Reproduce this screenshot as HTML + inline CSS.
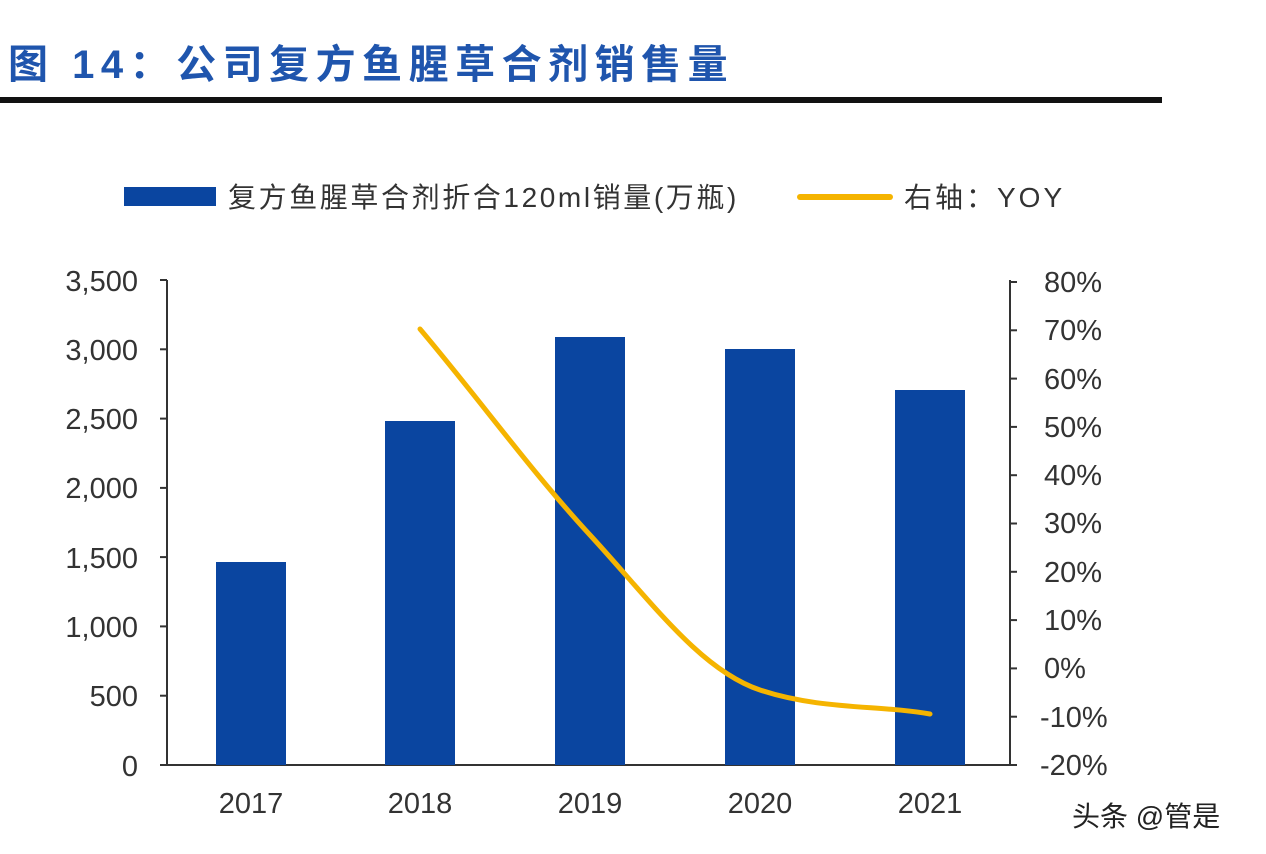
<!DOCTYPE html>
<html><head><meta charset="utf-8"><style>
html,body{margin:0;padding:0;background:#fff;}
svg{display:block;font-family:"Liberation Sans","Noto Sans CJK SC",sans-serif;}
</style></head><body>
<svg width="1266" height="854" viewBox="0 0 1266 854" xmlns="http://www.w3.org/2000/svg">
<rect width="1266" height="854" fill="#fff"/>
<text x="8" y="78" font-size="40" font-weight="bold" fill="#1f55ad" letter-spacing="6.5">图 14：公司复方鱼腥草合剂销售量</text>
<rect x="0" y="97" width="1162" height="6" fill="#111"/>
<rect x="124" y="187" width="92" height="19" fill="#0a45a0"/>
<text x="228" y="207" font-size="28" fill="#333" letter-spacing="2.6">复方鱼腥草合剂折合120ml销量(万瓶)</text>
<line x1="800" y1="197" x2="890" y2="197" stroke="#f5b400" stroke-width="6" stroke-linecap="round"/>
<text x="904" y="207" font-size="28" fill="#333" letter-spacing="3">右轴：YOY</text>
<g stroke="#333" stroke-width="2" fill="none">
<line x1="167" y1="280" x2="167" y2="765"/>
<line x1="167" y1="765" x2="1010" y2="765"/>
<line x1="1010" y1="280" x2="1010" y2="765"/>
<line x1="160" y1="280" x2="167" y2="280"/><line x1="160" y1="349.3" x2="167" y2="349.3"/><line x1="160" y1="418.6" x2="167" y2="418.6"/><line x1="160" y1="487.9" x2="167" y2="487.9"/><line x1="160" y1="557.1" x2="167" y2="557.1"/><line x1="160" y1="626.4" x2="167" y2="626.4"/><line x1="160" y1="695.7" x2="167" y2="695.7"/><line x1="160" y1="765" x2="167" y2="765"/>
<line x1="1010" y1="282" x2="1017" y2="282"/><line x1="1010" y1="330.3" x2="1017" y2="330.3"/><line x1="1010" y1="378.6" x2="1017" y2="378.6"/><line x1="1010" y1="426.9" x2="1017" y2="426.9"/><line x1="1010" y1="475.2" x2="1017" y2="475.2"/><line x1="1010" y1="523.5" x2="1017" y2="523.5"/><line x1="1010" y1="571.8" x2="1017" y2="571.8"/><line x1="1010" y1="620.1" x2="1017" y2="620.1"/><line x1="1010" y1="668.4" x2="1017" y2="668.4"/><line x1="1010" y1="716.7" x2="1017" y2="716.7"/><line x1="1010" y1="765" x2="1017" y2="765"/>
</g>
<g font-size="29" fill="#333" text-anchor="end">
<text x="138" y="291">3,500</text><text x="138" y="360">3,000</text><text x="138" y="429">2,500</text><text x="138" y="498">2,000</text><text x="138" y="568">1,500</text><text x="138" y="637">1,000</text><text x="138" y="706">500</text><text x="138" y="776">0</text>
</g>
<g font-size="29" fill="#333">
<text x="1044" y="292">80%</text><text x="1044" y="340">70%</text><text x="1044" y="389">60%</text><text x="1044" y="437">50%</text><text x="1044" y="485">40%</text><text x="1044" y="533">30%</text><text x="1044" y="582">20%</text><text x="1044" y="630">10%</text><text x="1044" y="678">0%</text><text x="1040" y="727">-10%</text><text x="1040" y="775">-20%</text>
</g>
<g fill="#0a45a0">
<rect x="216" y="562" width="70" height="203"/>
<rect x="385" y="421" width="70" height="344"/>
<rect x="555" y="337" width="70" height="428"/>
<rect x="725" y="349" width="70" height="416"/>
<rect x="895" y="390" width="70" height="375"/>
</g>
<g font-size="29" fill="#333" text-anchor="middle">
<text x="251" y="813">2017</text><text x="420" y="813">2018</text><text x="590" y="813">2019</text><text x="760" y="813">2020</text><text x="930" y="813">2021</text>
</g>
<path d="M420,329 C480,400 530,470 590,535 C650,600 700,670 760,690 C820,710 880,705 930,714" stroke="#f5b400" stroke-width="5" fill="none" stroke-linecap="round"/>
<text x="1072" y="826" font-size="28" fill="#222">头条 @管是</text>
</svg>
</body></html>
